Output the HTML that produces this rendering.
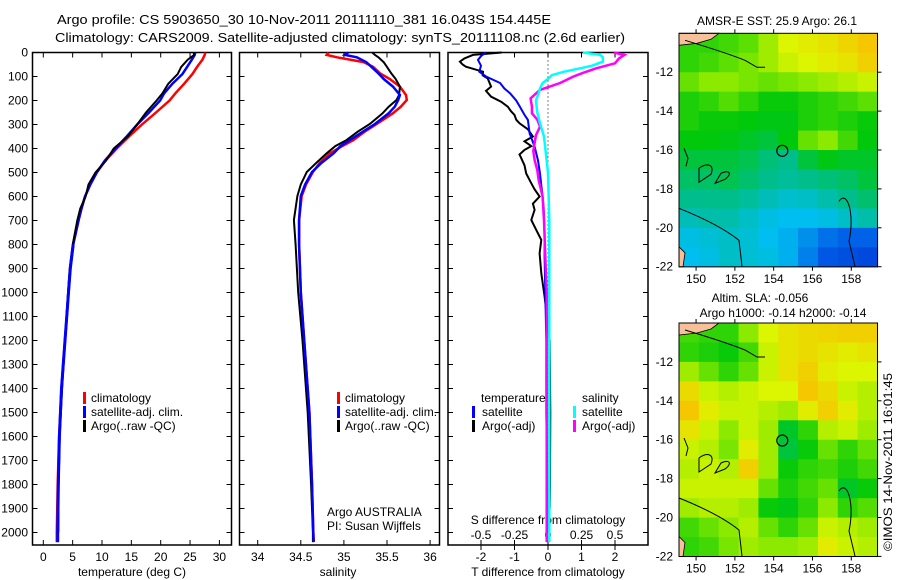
<!DOCTYPE html>
<html><head><meta charset="utf-8"><style>
html,body{margin:0;padding:0;background:#fff;}
svg{display:block;font-family:"Liberation Sans",sans-serif;}
</style></head><body>
<svg id="fig" width="900" height="580" viewBox="0 0 900 580" xmlns="http://www.w3.org/2000/svg">
<rect width="900" height="580" fill="#fff"/>
<text x="57" y="24" font-size="13" textLength="494" lengthAdjust="spacingAndGlyphs">Argo profile: CS 5903650_30 10-Nov-2011 20111110_381 16.043S 154.445E</text>
<text x="55" y="42" font-size="13" textLength="570" lengthAdjust="spacingAndGlyphs">Climatology: CARS2009. Satellite-adjusted climatology: synTS_20111108.nc (2.6d earlier)</text>
<g id="g1"></g>
<g id="g2"></g>
<g id="g3"></g>
<g id="m1"></g>
<g id="m2"></g>
<text x="0" y="0" font-size="12" transform="translate(892,551) rotate(-90)" textLength="178" lengthAdjust="spacingAndGlyphs">©IMOS 14-Nov-2011 16:01:45</text>
</svg>
<script>
// ---- temperature profiles ----
const tDepth = [0,10,30,60,90,130,170,200,250,300,350,400,450,500,550,600,650,700,800,900,1000,1200,1400,1600,1800,2000,2040];
const tClim = [27.6,27.5,27.1,26.2,25.4,24.0,22.5,21.5,19.2,16.8,14.6,12.5,10.6,9.1,8.0,7.1,6.5,6.0,5.1,4.6,4.3,3.7,3.1,2.7,2.45,2.3,2.3];
const tSat = [25.9,25.8,25.3,24.5,23.7,22.0,20.6,19.9,18.0,16.0,14.2,12.3,10.5,9.1,8.0,7.1,6.5,6.0,5.1,4.6,4.3,3.7,3.1,2.75,2.55,2.45,2.45];
const tArgoDepth = [0,10,30,60,90,130,170,200,250,300,350,400,450,500,550,600,650,700,800,900,1000,1200,1400,1600,1800,2000];
const tArgo = [25.6,25.7,24.6,23.5,22.9,21.3,20.3,19.3,17.5,16.0,14.4,12.0,10.7,8.9,7.7,7.2,6.3,5.8,5.0,4.5,4.2,3.7,3.2,2.8,2.6,2.55];
// ---- salinity profiles ----
const sDepth = [0,10,20,40,60,87,110,142,177,198,226,253,298,330,365,390,420,460,498,550,598,698,800,1000,1200,1500,1800,2000,2040];
const sClim = [34.82,34.80,34.92,35.23,35.34,35.42,35.53,35.65,35.72,35.73,35.66,35.57,35.38,35.24,35.11,34.98,34.84,34.72,34.64,34.56,34.51,34.48,34.48,34.50,34.54,34.60,34.63,34.645,34.65];
const sSat = [35.05,35.01,35.15,35.26,35.32,35.40,35.46,35.57,35.65,35.63,35.59,35.52,35.36,35.22,35.07,34.96,34.88,34.74,34.63,34.55,34.50,34.48,34.48,34.50,34.54,34.60,34.63,34.645,34.65];
const sArgo = [35.33,35.36,35.40,35.46,35.50,35.55,35.60,35.65,35.64,35.61,35.52,35.45,35.30,35.16,35.03,34.90,34.80,34.68,34.57,34.50,34.46,34.42,34.44,34.47,34.52,34.58,34.62,34.64,34.64];
// ---- differences ----
const dtSatDepth = [0,15,31,55,80,100,127,150,170,200,226,260,281,337,392,450,504,580,643,750,850,1000,1200,1500,1800,2000];
const dtSat = [-1.85,-2.0,-2.09,-2.0,-2.05,-1.85,-1.43,-1.3,-1.13,-0.95,-0.84,-0.7,-0.6,-0.55,-0.4,-0.3,-0.24,-0.18,-0.13,-0.1,-0.1,-0.08,-0.05,-0.05,-0.02,0.0];
const dtArgoDepth = [0,10,25,38,50,59,80,95,108,125,142,160,184,205,226,245,260,280,295,320,350,370,390,406,425,440,470,504,545,570,600,630,656,698,740,781,837,920,1017,1200,1500,1800,1900];
const dtArgo = [-1.38,-2.24,-2.5,-2.63,-2.55,-2.45,-1.94,-1.95,-1.8,-1.75,-1.7,-1.85,-1.7,-1.4,-1.2,-1.1,-1.0,-0.95,-0.85,-0.6,-0.45,-0.7,-0.5,-0.7,-0.85,-0.8,-0.7,-0.65,-0.5,-0.4,-0.25,-0.45,-0.4,-0.5,-0.35,-0.2,-0.25,-0.2,-0.1,0.05,0.07,0.06,0.05];
const dsSatDepth = [0,10,20,38,55,66,80,94,110,127,150,170,200,250,295,350,400,500,700,1000,1500,2000,2040];
const dsSat = [0.26,0.39,0.41,0.41,0.33,0.24,0.12,0.03,0.0,-0.04,-0.06,-0.07,-0.09,-0.08,-0.06,-0.03,-0.02,0.0,0.01,0.01,0.01,0.01,0.01];
const dsArgoDepth = [0,10,25,45,66,85,100,127,156,191,225,253,280,309,345,378,410,448,490,531,600,700,850,1000,1500,2000,2040];
const dsArgo = [0.49,0.57,0.53,0.5,0.36,0.26,0.19,0.09,-0.06,-0.13,-0.12,-0.12,-0.08,-0.06,-0.09,-0.1,-0.11,-0.1,-0.08,-0.07,-0.04,-0.03,-0.02,-0.01,-0.01,-0.01,-0.01];
// ---- tick labels ----
const depthTicks = [0,100,200,300,400,500,600,700,800,900,1000,1100,1200,1300,1400,1500,1600,1700,1800,1900,2000];
const tTicks = [0,5,10,15,20,25,30];
const sTicks = [34,34.5,35,35.5,36];
const sTickLabels = ["34","34.5","35","35.5","36"];
const dtTicks = [-2,-1,0,1,2];
const dsTicks = [-0.5,-0.25,0,0.25,0.5];
const dsTickLabels = ["-0.5","-0.25","0","0.25","0.5"];
const latTicks = [-12,-14,-16,-18,-20,-22];
const lonTicks = [150,152,154,156,158];
// ---- map grids (rows north->south, cols west->east), colour index 0..1 ----
const sstGrid = [
[0.6,0.6,0.62,0.65,0.72,0.78,0.8,0.82,0.85,0.88],
[0.6,0.62,0.65,0.68,0.72,0.76,0.78,0.8,0.82,0.86],
[0.66,0.7,0.7,0.68,0.66,0.68,0.7,0.72,0.74,0.76],
[0.58,0.6,0.64,0.6,0.56,0.56,0.58,0.6,0.62,0.65],
[0.58,0.56,0.56,0.55,0.54,0.54,0.58,0.6,0.58,0.56],
[0.55,0.55,0.54,0.52,0.5,0.55,0.66,0.7,0.62,0.55],
[0.5,0.5,0.5,0.48,0.44,0.42,0.5,0.54,0.52,0.52],
[0.46,0.46,0.48,0.45,0.42,0.4,0.42,0.44,0.46,0.5],
[0.42,0.42,0.42,0.4,0.36,0.33,0.34,0.38,0.42,0.45],
[0.36,0.38,0.38,0.34,0.3,0.28,0.28,0.3,0.34,0.38],
[0.3,0.32,0.34,0.32,0.28,0.26,0.22,0.18,0.16,0.16],
[0.28,0.3,0.34,0.32,0.3,0.26,0.2,0.14,0.12,0.1]];
const slaGrid = [
[0.62,0.6,0.6,0.7,0.78,0.82,0.84,0.85,0.86,0.86],
[0.6,0.58,0.56,0.62,0.76,0.82,0.84,0.82,0.8,0.82],
[0.72,0.66,0.6,0.66,0.76,0.82,0.86,0.8,0.78,0.78],
[0.84,0.76,0.74,0.76,0.78,0.78,0.88,0.84,0.76,0.74],
[0.88,0.8,0.76,0.76,0.74,0.72,0.8,0.86,0.8,0.74],
[0.82,0.76,0.7,0.76,0.72,0.52,0.6,0.74,0.76,0.72],
[0.76,0.74,0.68,0.8,0.72,0.5,0.56,0.66,0.6,0.66],
[0.74,0.76,0.74,0.86,0.72,0.56,0.6,0.62,0.58,0.62],
[0.76,0.76,0.76,0.76,0.66,0.58,0.62,0.66,0.52,0.56],
[0.72,0.74,0.74,0.72,0.56,0.54,0.6,0.7,0.6,0.64],
[0.62,0.66,0.7,0.74,0.66,0.6,0.66,0.76,0.74,0.72],
[0.6,0.62,0.68,0.72,0.7,0.7,0.72,0.8,0.76,0.74]];
const argoLon = 154.445, argoLat = -16.043;

const NS='http://www.w3.org/2000/svg';
function mk(tag, attrs, parent){const e=document.createElementNS(NS,tag);for(const k in attrs)e.setAttribute(k,attrs[k]);parent.appendChild(e);return e;}
const yD = d => 52.5 + d*0.24;
const TOP=52.5, BOT=545;

function panel(g, x0, x1, name){
  const r=mk('rect',{x:x0,y:TOP,width:x1-x0,height:BOT-TOP,fill:'none',stroke:'#000','stroke-width':1.5},g);
  
  
  depthTicks.forEach(d=>{
    const t=mk('path',{d:`M${x0},${yD(d)}h5M${x1},${yD(d)}h-5`,stroke:'#000','stroke-width':1},g);
    
    
  });
}
function series(g, xs, ds, xf, color, name, w){
  const p=mk('polyline',{points:xs.map((v,i)=>xf(v).toFixed(1)+','+yD(ds[i]).toFixed(1)).join(' '),fill:'none',stroke:color,'stroke-width':w||2.5,'stroke-linejoin':'miter'},g);
  
  
}
function txt(g, x, y, s, anchor, name, size){
  const t=mk('text',{x:x,y:y,'font-size':size||12,'text-anchor':anchor||'start'},g);
  t.textContent=s;
  
  
  return t;
}
function legendMark(g,x,y,color,name){
  const r=mk('rect',{x:x,y:y-10,width:3,height:12,fill:color},g);
  
  
}

// Panel 1 - temperature
const g1=document.getElementById('g1');
const xT = v => 43.3 + v*5.87;
panel(g1,32.5,231.5,'temperature-panel');
depthTicks.forEach(d=>txt(g1,28,yD(d)+4,String(d),'end','depth-tick-label',12));
tTicks.forEach(v=>{
  const t=mk('path',{d:`M${xT(v)},${BOT}v-5M${xT(v)},${TOP}v5`,stroke:'#000'},g1);
  
  
  txt(g1,xT(v),561,String(v),'middle','temperature-tick-label',12);
});
txt(g1,132,576,'temperature (deg C)','middle','temperature-axis-title',12);
series(g1,tClim,tDepth,xT,'#ff0000','temperature-climatology-line');
series(g1,tSat,tDepth,xT,'#0000ff','temperature-satellite-line');
series(g1,tArgo,tArgoDepth,xT,'#000000','temperature-argo-line',2);
series(g1,tSat.slice(18),tDepth.slice(18),xT,'#0000ff','temperature-satellite-line-deep',3);
legendMark(g1,83,402,'#f00','legend-climatology-mark');txt(g1,91,402,'climatology','start','legend-climatology-label');
legendMark(g1,83,416,'#00f','legend-satellite-mark');txt(g1,91,416,'satellite-adj. clim.','start','legend-satellite-label');
legendMark(g1,83,430,'#000','legend-argo-mark');txt(g1,91,430,'Argo(..raw -QC)','start','legend-argo-label');

// Panel 2 - salinity
const g2=document.getElementById('g2');
const xS = v => 257.7 + (v-34)*86.2;
panel(g2,239.5,439.5,'salinity-panel');
sTicks.forEach((v,i)=>{
  const t=mk('path',{d:`M${xS(v)},${BOT}v-5M${xS(v)},${TOP}v5`,stroke:'#000'},g2);
  
  
  txt(g2,xS(v),561,sTickLabels[i],'middle','salinity-tick-label',12);
});
txt(g2,338,576,'salinity','middle','salinity-axis-title',12);
series(g2,sClim,sDepth,xS,'#ff0000','salinity-climatology-line');
series(g2,sArgo,sDepth,xS,'#000000','salinity-argo-line',2);
series(g2,sSat,sDepth,xS,'#0000ff','salinity-satellite-line');
legendMark(g2,337,402,'#f00','legend-climatology-mark');txt(g2,345,402,'climatology','start','legend-climatology-label');
legendMark(g2,337,416,'#00f','legend-satellite-mark');txt(g2,345,416,'satellite-adj. clim.','start','legend-satellite-label');
legendMark(g2,337,430,'#000','legend-argo-mark');txt(g2,345,430,'Argo(..raw -QC)','start','legend-argo-label');
txt(g2,327,516,'Argo AUSTRALIA','start','float-owner-label');
txt(g2,327,530,'PI: Susan Wijffels','start','pi-label');

// Panel 3 - differences
const g3=document.getElementById('g3');
const xDT = v => 548 + v*33.5;
const xDS = v => 548 + v*134;
panel(g3,448,648,'difference-panel');
const zl=mk('line',{x1:548,y1:TOP,x2:548,y2:BOT,stroke:'#000','stroke-dasharray':'1,3'},g3);


dtTicks.forEach(v=>{
  const t=mk('path',{d:`M${xDT(v)},${BOT}v5`,stroke:'#000'},g3);
  
  
  txt(g3,xDT(v),561,String(v),'middle','t-diff-tick-label',12);
});
dsTicks.forEach((v,i)=>{
  const t=mk('path',{d:`M${xDS(v)},${BOT}v-5M${xDS(v)},${TOP}v5`,stroke:'#000'},g3);
  
  
  txt(g3,xDS(v),539,dsTickLabels[i],'middle','s-diff-tick-label',12);
});
txt(g3,548,524,'S difference from climatology','middle','s-diff-axis-title',12);
txt(g3,548,576,'T difference from climatology','middle','t-diff-axis-title',12);
series(g3,dtArgo,dtArgoDepth,xDT,'#000000','t-diff-argo-line',2);
series(g3,dtSat,dtSatDepth,xDT,'#0000ff','t-diff-satellite-line',2);
series(g3,dsArgo,dsArgoDepth,xDS,'#ff00ff','s-diff-argo-line',2.5);
series(g3,dsSat,dsSatDepth,xDS,'#00ffff','s-diff-satellite-line',2.5);
txt(g3,481,402,'temperature','start','legend-temperature-heading');
txt(g3,582,402,'salinity','start','legend-salinity-heading');
legendMark(g3,472,416,'#00f','legend-t-sat-mark');txt(g3,482,416,'satellite','start','legend-t-sat-label');
legendMark(g3,472,430,'#000','legend-t-argo-mark');txt(g3,482,430,'Argo(-adj)','start','legend-t-argo-label');
legendMark(g3,573,416,'#0ff','legend-s-sat-mark');txt(g3,582,416,'satellite','start','legend-s-sat-label');
legendMark(g3,573,430,'#f0f','legend-s-argo-mark');txt(g3,582,430,'Argo(-adj)','start','legend-s-argo-label');

// Maps
const stops=[[0.0,[0,40,200]],[0.15,[0,90,230]],[0.28,[0,190,240]],[0.42,[0,190,140]],[0.55,[0,200,10]],[0.68,[120,230,0]],[0.78,[220,245,0]],[0.9,[250,190,0]],[1.0,[250,140,0]]];
function cmap(v){for(let i=1;i<stops.length;i++){if(v<=stops[i][0]){const a=stops[i-1],b=stops[i],f=(v-a[0])/(b[0]-a[0]);return 'rgb('+a[1].map((c,k)=>Math.round(c+f*(b[1][k]-c))).join(',')+')';}}return 'rgb(250,140,0)';}
function drawMap(g, top, grid, name){
  const L=679,R=877.5,B=top+233.5;
  const lonX = lon => L + (lon-149.12)*19.4;
  const latY = lat => top + (-10-lat)*19.45;
  const rows=grid.length, cols=grid[0].length;
  const cw=(R-L)/cols, ch=(B-top)/rows;
  grid.forEach((row,i)=>row.forEach((v,j)=>{
    const c=mk('rect',{x:(L+j*cw).toFixed(2),y:(top+i*ch).toFixed(2),width:(cw+0.6).toFixed(2),height:(ch+0.6).toFixed(2),fill:cmap(v)},g);
    
    
  }));
  // land / coastlines (decorative)
  const land=mk('path',{d:`M${L},${top}h40l-8,6l-14,4l-18,2z M${L},${B-20}l6,6l-2,14h-4z`,fill:'#f5c09a',stroke:'#000','stroke-width':0.8},g);
  
  
  const coast=mk('path',{d:`M${L+6},${top+7}c20,6 40,12 60,20l12,7h8 M${L},${top+175}c25,10 45,20 60,32l3,26 M${L+5},${top+115}l4,10l-2,8 M${L+20},${top+135}c8,-6 16,-4 12,6l-12,8z M${L+42},${top+140}c8,-4 12,0 4,6l-10,4z M${L+160},${top+168}c8,-12 16,12 10,40l6,25`,fill:'none',stroke:'#000','stroke-width':1},g);
  
  
  const fr=mk('rect',{x:L,y:top,width:R-L,height:B-top,fill:'none',stroke:'#000','stroke-width':1},g);
  
  
  const ci=mk('circle',{cx:lonX(argoLon),cy:latY(argoLat),r:5.5,fill:'none',stroke:'#000','stroke-width':1.2},g);
  
  
  latTicks.forEach(lat=>{
    const t=mk('path',{d:`M${R},${latY(lat)}h4`,stroke:'#000'},g);
    
    
    txt(g,673,latY(lat)+4,String(lat),'end',name+'-lat-label',12);
  });
  lonTicks.forEach(lon=>{
    const t=mk('path',{d:`M${lonX(lon)},${B}v4M${lonX(lon)},${top}v-4`,stroke:'#000'},g);
    
    
    txt(g,lonX(lon),B+16,String(lon),'middle',name+'-lon-label',12);
  });
}
const m1=document.getElementById('m1'), m2=document.getElementById('m2');
drawMap(m1,33.3,sstGrid,'sst-map');
drawMap(m2,323,slaGrid,'sla-map');
txt(m1,777,25,'AMSR-E SST: 25.9 Argo: 26.1','middle','sst-map-title',12);
txt(m2,760,302,'Altim. SLA: -0.056','middle','sla-map-title',12);
txt(m2,783,317,'Argo h1000: -0.14 h2000: -0.14','middle','sla-map-subtitle',12);
</script>
</body></html>
